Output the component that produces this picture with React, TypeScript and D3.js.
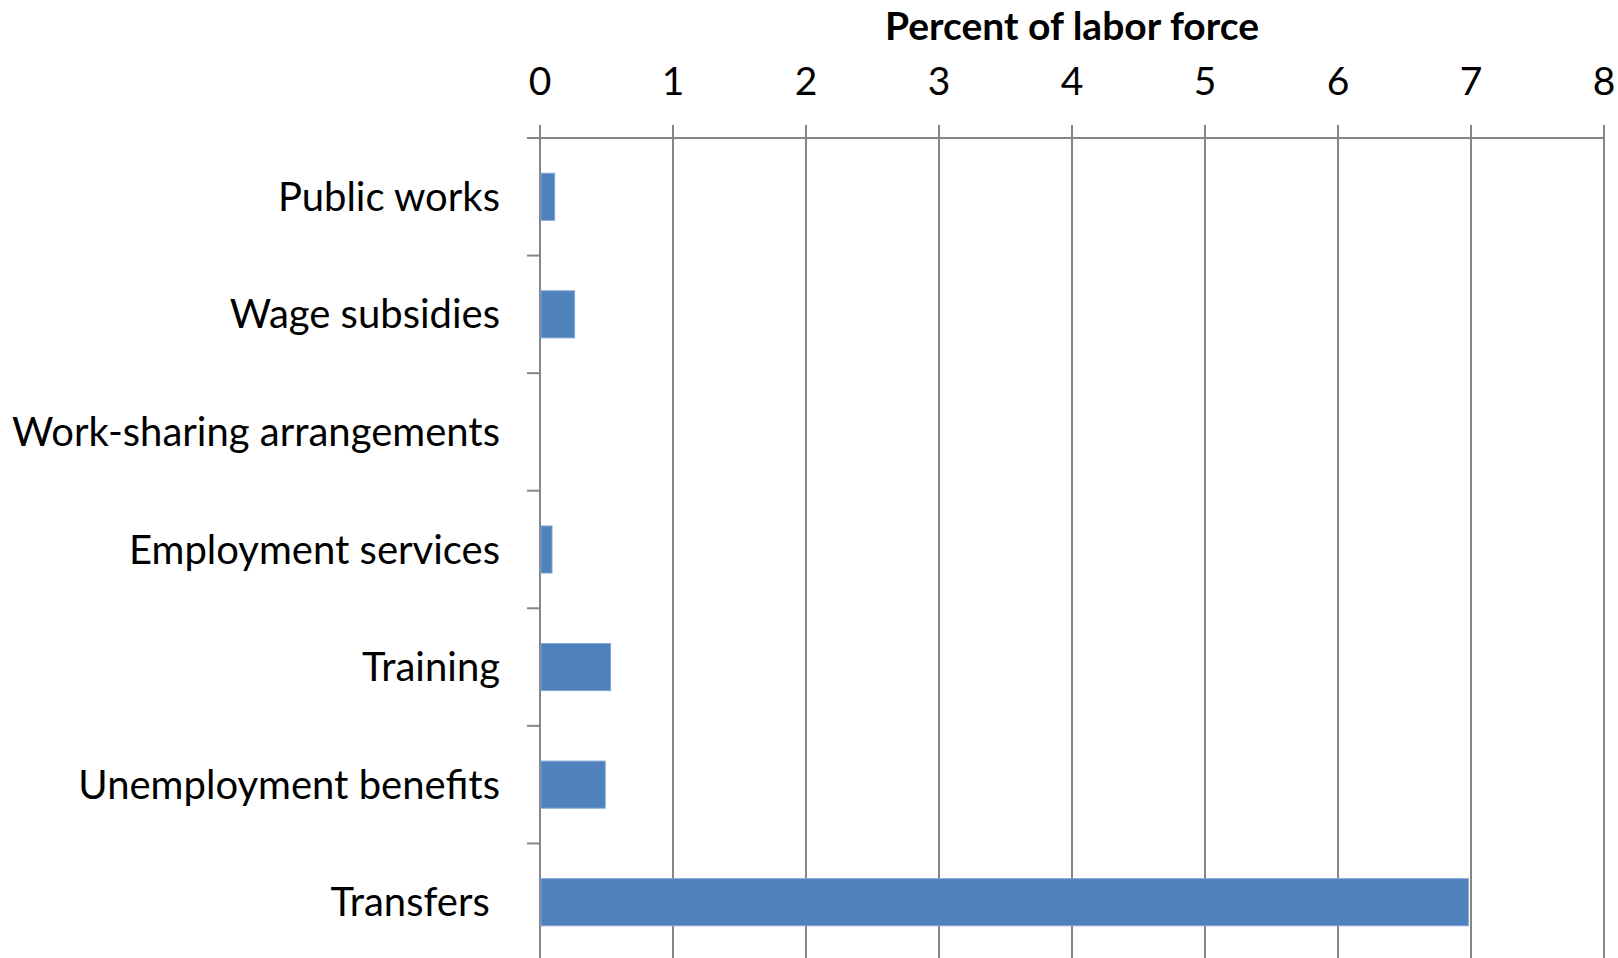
import { useEffect, useRef } from 'react';
import * as d3 from 'd3';

// Categories top to bottom, values in percent of labor force
const CATEGORIES = [
  'Public works',
  'Wage subsidies',
  'Work-sharing arrangements',
  'Employment services',
  'Training',
  'Unemployment benefits',
  'Transfers ',
];
const VALUES = [0.11, 0.26, 0, 0.09, 0.53, 0.49, 6.98];
const X_TICKS = [0, 1, 2, 3, 4, 5, 6, 7, 8];

const COLORS = {
  bar: '#4F81BD',
  barEdge: '#7EA2CF',
  grid: '#868686',
  text: '#000000',
};

const WIDTH = 1618;
const HEIGHT = 958;
const FONT = 'Lato, "Open Sans", sans-serif';

export default function App() {
  const svgRef = useRef<SVGSVGElement>(null);

  useEffect(() => {
    document.body.style.margin = '0';
    if (!svgRef.current) return;
    const svg = d3.select(svgRef.current);
    svg.selectAll('*').remove();

    const margin = { top: 138, left: 540, right: 14, bottom: -3 };
    const x = d3.scaleLinear()
      .domain([0, 8])
      .range([margin.left, WIDTH - margin.right]);
    const y = d3.scaleBand()
      .domain(CATEGORIES)
      .range([margin.top, HEIGHT - margin.bottom])
      .paddingInner(0.6)
      .paddingOuter(0.3);
    const step = y.step();

    // vertical gridlines with tick marks above the top axis
    svg.append('g')
      .selectAll('line')
      .data(X_TICKS)
      .join('line')
      .attr('x1', (d) => x(d))
      .attr('x2', (d) => x(d))
      .attr('y1', margin.top - 13)
      .attr('y2', HEIGHT + 5)
      .attr('stroke', COLORS.grid)
      .attr('stroke-width', 2);

    // top axis line
    svg.append('line')
      .attr('x1', margin.left - 13)
      .attr('x2', x(8))
      .attr('y1', margin.top)
      .attr('y2', margin.top)
      .attr('stroke', COLORS.grid)
      .attr('stroke-width', 2);

    // category separators on left axis
    svg.append('g')
      .selectAll('line')
      .data(d3.range(1, CATEGORIES.length))
      .join('line')
      .attr('x1', margin.left - 13)
      .attr('x2', margin.left)
      .attr('y1', (i) => margin.top + i * step)
      .attr('y2', (i) => margin.top + i * step)
      .attr('stroke', COLORS.grid)
      .attr('stroke-width', 2);

    // tick labels
    svg.append('g')
      .selectAll('text')
      .data(X_TICKS)
      .join('text')
      .attr('x', (d) => x(d))
      .attr('y', 95)
      .attr('text-anchor', 'middle')
      .attr('font-family', FONT)
      .attr('font-size', '39px')
      .attr('fill', COLORS.text)
      .text((d) => String(d));

    // axis title
    svg.append('text')
      .attr('x', (x(0) + x(8)) / 2)
      .attr('y', 40)
      .attr('text-anchor', 'middle')
      .attr('font-family', FONT)
      .attr('font-size', '39px')
      .attr('font-weight', '700')
      .attr('fill', COLORS.text)
      .text('Percent of labor force');

    // bars
    svg.append('g')
      .selectAll('rect')
      .data(CATEGORIES)
      .join('rect')
      .attr('x', x(0) + 1)
      .attr('y', (d) => y(d)!)
      .attr('width', (_, i) => Math.max(0, x(VALUES[i]) - x(0) - 1))
      .attr('height', y.bandwidth())
      .attr('fill', COLORS.bar)
      .attr('stroke', COLORS.barEdge)
      .attr('stroke-width', (_, i) => (VALUES[i] > 0 ? 1 : 0));

    // category labels
    svg.append('g')
      .selectAll('text')
      .data(CATEGORIES)
      .join('text')
      .attr('x', margin.left - 40)
      .attr('y', (d) => y(d)! + y.bandwidth() / 2)
      .attr('dy', '0.35em')
      .attr('text-anchor', 'end')
      .attr('font-family', FONT)
      .attr('font-size', '40px')
      .attr('fill', COLORS.text)
      .style('white-space', 'pre')
      .text((d) => d);
  }, []);

  return (
    <svg
      ref={svgRef}
      width={WIDTH}
      height={HEIGHT}
      style={{ display: 'block', background: '#ffffff' }}
    />
  );
}
